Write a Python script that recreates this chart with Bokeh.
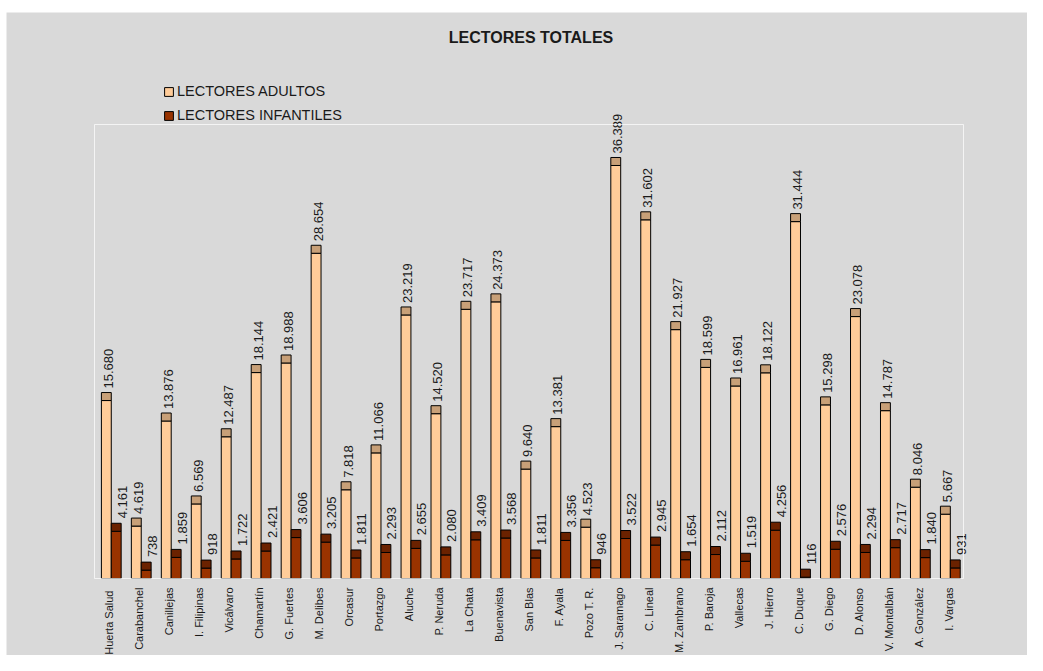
import math
from bokeh.plotting import figure
from bokeh.models import (ColumnDataSource, Label, Legend, LegendItem, Range1d,
                          BoxAnnotation)
from bokeh.core.properties import value
from bokeh.embed import file_html
from bokeh.resources import INLINE

categories = ["Huerta  Salud", "Carabanchel", "Canillejas", "I. Filipinas", "Vicálvaro",
              "Chamartín", "G. Fuertes", "M. Delibes", "Orcasur", "Portazgo", "Aluche",
              "P. Neruda", "La Chata", "Buenavista", "San Blas", "F. Ayala", "Pozo T. R.",
              "J. Saramago", "C. Lineal", "M. Zambrano", "P. Baroja", "Vallecas",
              "J. Hierro", "C. Duque", "G. Diego", "D. Alonso", "M. V. Montalbán",
              "A. González", "I. Vargas"]
adultos = [15680, 4619, 13876, 6569, 12487, 18144, 18988, 28654, 7818, 11066, 23219,
           14520, 23717, 24373, 9640, 13381, 4523, 36389, 31602, 21927, 18599, 16961,
           18122, 31444, 15298, 23078, 14787, 8046, 5667]
infantiles = [4161, 738, 1859, 918, 1722, 2421, 3606, 3205, 1811, 2293, 2655, 2080,
              3409, 3568, 1811, 3356, 946, 3522, 2945, 1654, 2112, 1519, 4256, 116,
              2576, 2294, 2717, 1840, 931]
series_names = ["LECTORES ADULTOS", "LECTORES INFANTILES"]
title_text = "LECTORES TOTALES"

# ---- layout (pixels) ----
W_PX, H_PX = 1027, 655
OFF_L, OFF_T = 6, 12                       # white strip left / top
FW, FH = W_PX - OFF_L, H_PX - OFF_T        # frame size
PA_LEFT, PA_RIGHT = 88, 957                # plot-area left/right inside the frame
PA_TOP, PA_BOTTOM = 112, 566               # plot-area top / baseline inside the frame
Y_MAX = 40000
N = len(categories)
U = Y_MAX / (PA_BOTTOM - PA_TOP)           # data units per pixel (vertical)
CPX = (PA_RIGHT - PA_LEFT) / N             # pixels per category
CAP = 8 * U                                # 3D cap depth (8 px)
BG = "#d9d9d9"
FONT = "Liberation Sans"


def fmt(v):
    return f"{v:,}".replace(",", ".")


pos = [i + 0.5 for i in range(N)]
src = ColumnDataSource(dict(
    cat=categories,
    xa=[x - 0.105 for x in pos],
    xi=[x + 0.225 for x in pos],
    xc=pos,
    adultos=adultos,
    infantiles=infantiles,
    adultos_cap=[v + CAP for v in adultos],
    infantiles_cap=[v + CAP for v in infantiles],
    adultos_ly=[v + CAP + 4 * U for v in adultos],
    infantiles_ly=[v + CAP + 5 * U for v in infantiles],
    adultos_lbl=[fmt(v) for v in adultos],
    infantiles_lbl=[fmt(v) for v in infantiles],
    cat_y=[-9 * U] * N,
))

p = figure(x_range=Range1d(-PA_LEFT / CPX, N + (FW - PA_RIGHT) / CPX),
           y_range=Range1d(-(FH - PA_BOTTOM) * U, PA_BOTTOM * U),
           width=W_PX, height=H_PX, output_backend="svg", toolbar_location=None,
           x_axis_location=None, y_axis_location=None,
           min_border=0, min_border_left=OFF_L, min_border_right=0,
           min_border_top=OFF_T, min_border_bottom=0)
p.xgrid.visible = False
p.ygrid.visible = False
p.background_fill_color = BG
p.border_fill_color = "white"
p.outline_line_color = None

# plot-area border (faint white)
p.add_layout(BoxAnnotation(left=0, right=N, bottom=0, top=Y_MAX, fill_alpha=0,
                           line_color="white", line_alpha=0.7, line_width=1))

BW = 0.33
ra = p.vbar(x="xa", top="adultos", width=BW, source=src, fill_color="#FFCC99",
            line_color="black", line_width=1)
p.vbar(x="xa", bottom="adultos", top="adultos_cap", width=BW, source=src,
       fill_color="#C8A078", line_color="black", line_width=1)
ri = p.vbar(x="xi", top="infantiles", width=BW, source=src, fill_color="#993300",
            line_color="black", line_width=1)
p.vbar(x="xi", bottom="infantiles", top="infantiles_cap", width=BW, source=src,
       fill_color="#6B2200", line_color="black", line_width=1)

lbl_common = dict(angle=math.pi / 2, text_align="left", text_baseline="middle",
                  text_font_size="13px", text_font=value(FONT),
                  text_color="#1a1a1a", source=src)
p.text(x="xa", y="adultos_ly", text="adultos_lbl", x_offset=2, **lbl_common)
p.text(x="xi", y="infantiles_ly", text="infantiles_lbl", x_offset=6, **lbl_common)

p.text(x="xc", y="cat_y", text="cat", angle=math.pi / 2, text_align="right",
       text_baseline="middle", x_offset=0, text_font_size="11px",
       text_font=value(FONT), text_color="#1a1a1a", source=src)

# title, centred on the plot area, 25 px below the top of the frame
p.add_layout(Label(x=N / 2, y=(PA_BOTTOM - 25) * U, text=title_text,
                   text_align="center", text_baseline="middle", x_offset=2,
                   text_font=FONT, text_font_style="bold",
                   text_font_size="16px", text_color="#1a1a1a"))

legend = Legend(items=[LegendItem(label=series_names[0], renderers=[ra]),
                       LegendItem(label=series_names[1], renderers=[ri])],
                location=(157, 530), padding=0, margin=0, spacing=4,
                glyph_width=11, glyph_height=11, label_standoff=3, label_height=20,
                label_text_font=FONT, label_text_font_size="14.5px",
                label_text_color="#1a1a1a",
                background_fill_alpha=0, border_line_alpha=0)
p.add_layout(legend, "center")

open("out.html", "w").write(file_html(p, INLINE))
